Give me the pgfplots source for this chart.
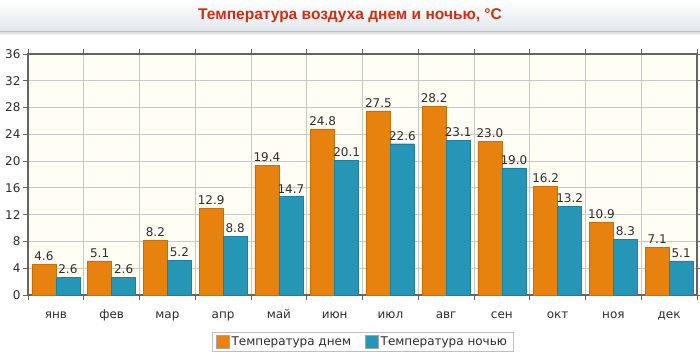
\documentclass[border=0pt]{standalone}
\usepackage{pgfplots}
\pgfplotsset{compat=1.18}
\usepackage{fontspec}
\setmainfont{DejaVu Sans}
\newfontfamily\titlefont{Liberation Sans}
\definecolor{cday}{RGB}{232,130,14}
\definecolor{cnight}{RGB}{37,150,182}
\definecolor{ctitle}{RGB}{208,46,18}
\definecolor{cbg}{RGB}{255,253,244}
\definecolor{cgrid}{RGB}{200,200,196}
\definecolor{caxis}{RGB}{100,100,100}
\definecolor{ctext}{RGB}{45,45,45}
\begin{document}
\begin{tikzpicture}
\path[use as bounding box] (0pt,0pt) rectangle (700pt,-356pt);
\shade[top color=white, bottom color={rgb,255:red,226;green,232;blue,238}] (0pt,0pt) rectangle (700pt,-31pt);
\fill[black!25] (0pt,-31pt) rectangle (700pt,-32pt);
\fill[black!12] (0pt,-32pt) rectangle (700pt,-33.5pt);
\fill[black!5] (0pt,-33.5pt) rectangle (700pt,-35pt);
\node[text=ctitle, font=\titlefont\bfseries\fontsize{15.5}{18}\selectfont] at (350pt,-15.5pt) {Температура воздуха днем и ночью, °C};
\begin{axis}[
  at={(28pt,-295pt)}, anchor=south west,
  scale only axis, width=669pt, height=241pt,
  ymin=0, ymax=36, ytick={0,4,...,36},
  xmin=-0.5, xmax=11.5,
  xtick={0,...,11},
  xticklabels={янв,фев,мар,апр,май,июн,июл,авг,сен,окт,ноя,дек},
  minor xtick={-0.5,0.5,...,11.5},
  major x tick style={draw=none},
  ybar=0pt, bar width=24pt,
  axis background/.style={fill=cbg},
  ymajorgrids, xminorgrids,
  grid style={cgrid, line width=0.9pt},
  minor grid style={cgrid, line width=0.9pt},
  axis line style={caxis, line width=1.3pt},
  tick style={caxis, line width=0.9pt},
  tick align=outside,
  major tick length=5pt, minor tick length=5pt,
  ticklabel style={font=\fontsize{12}{14}\selectfont, text=ctext},
  /pgf/number format/assume math mode=true,
  xticklabel style={yshift=-6pt, text height=9pt, text depth=3pt},
  yticklabel style={xshift=1pt},
  nodes near coords,
  nodes near coords style={font=\fontsize{12}{14}\selectfont, text=ctext,
     /pgf/number format/.cd, fixed, fixed zerofill, precision=1, assume math mode=true},
  legend columns=2,
  legend style={at={(0.5,0)}, yshift=-47pt, anchor=center, draw=black!25, line width=0.8pt,
     font=\fontsize{12}{14}\selectfont, text=ctext,
     /tikz/every even column/.append style={column sep=12pt},
     inner xsep=4pt, inner ysep=2pt},
  legend cell align=left,
  legend image code/.code={\draw[#1, draw=black!35, line width=0.6pt] (0pt,-6pt) rectangle (13pt,7pt);},
  clip=false,
]
\addplot[fill=cday, draw=cday!85!black, line width=0.3pt] coordinates {
(0,4.6) (1,5.1) (2,8.2) (3,12.9) (4,19.4) (5,24.8) (6,27.5) (7,28.2) (8,23.0) (9,16.2) (10,10.9) (11,7.1)};
\addplot[fill=cnight, draw=cnight!85!black, line width=0.3pt] coordinates {
(0,2.6) (1,2.6) (2,5.2) (3,8.8) (4,14.7) (5,20.1) (6,22.6) (7,23.1) (8,19.0) (9,13.2) (10,8.3) (11,5.1)};
\legend{Температура днем, Температура ночью}
\end{axis}
\end{tikzpicture}
\end{document}
